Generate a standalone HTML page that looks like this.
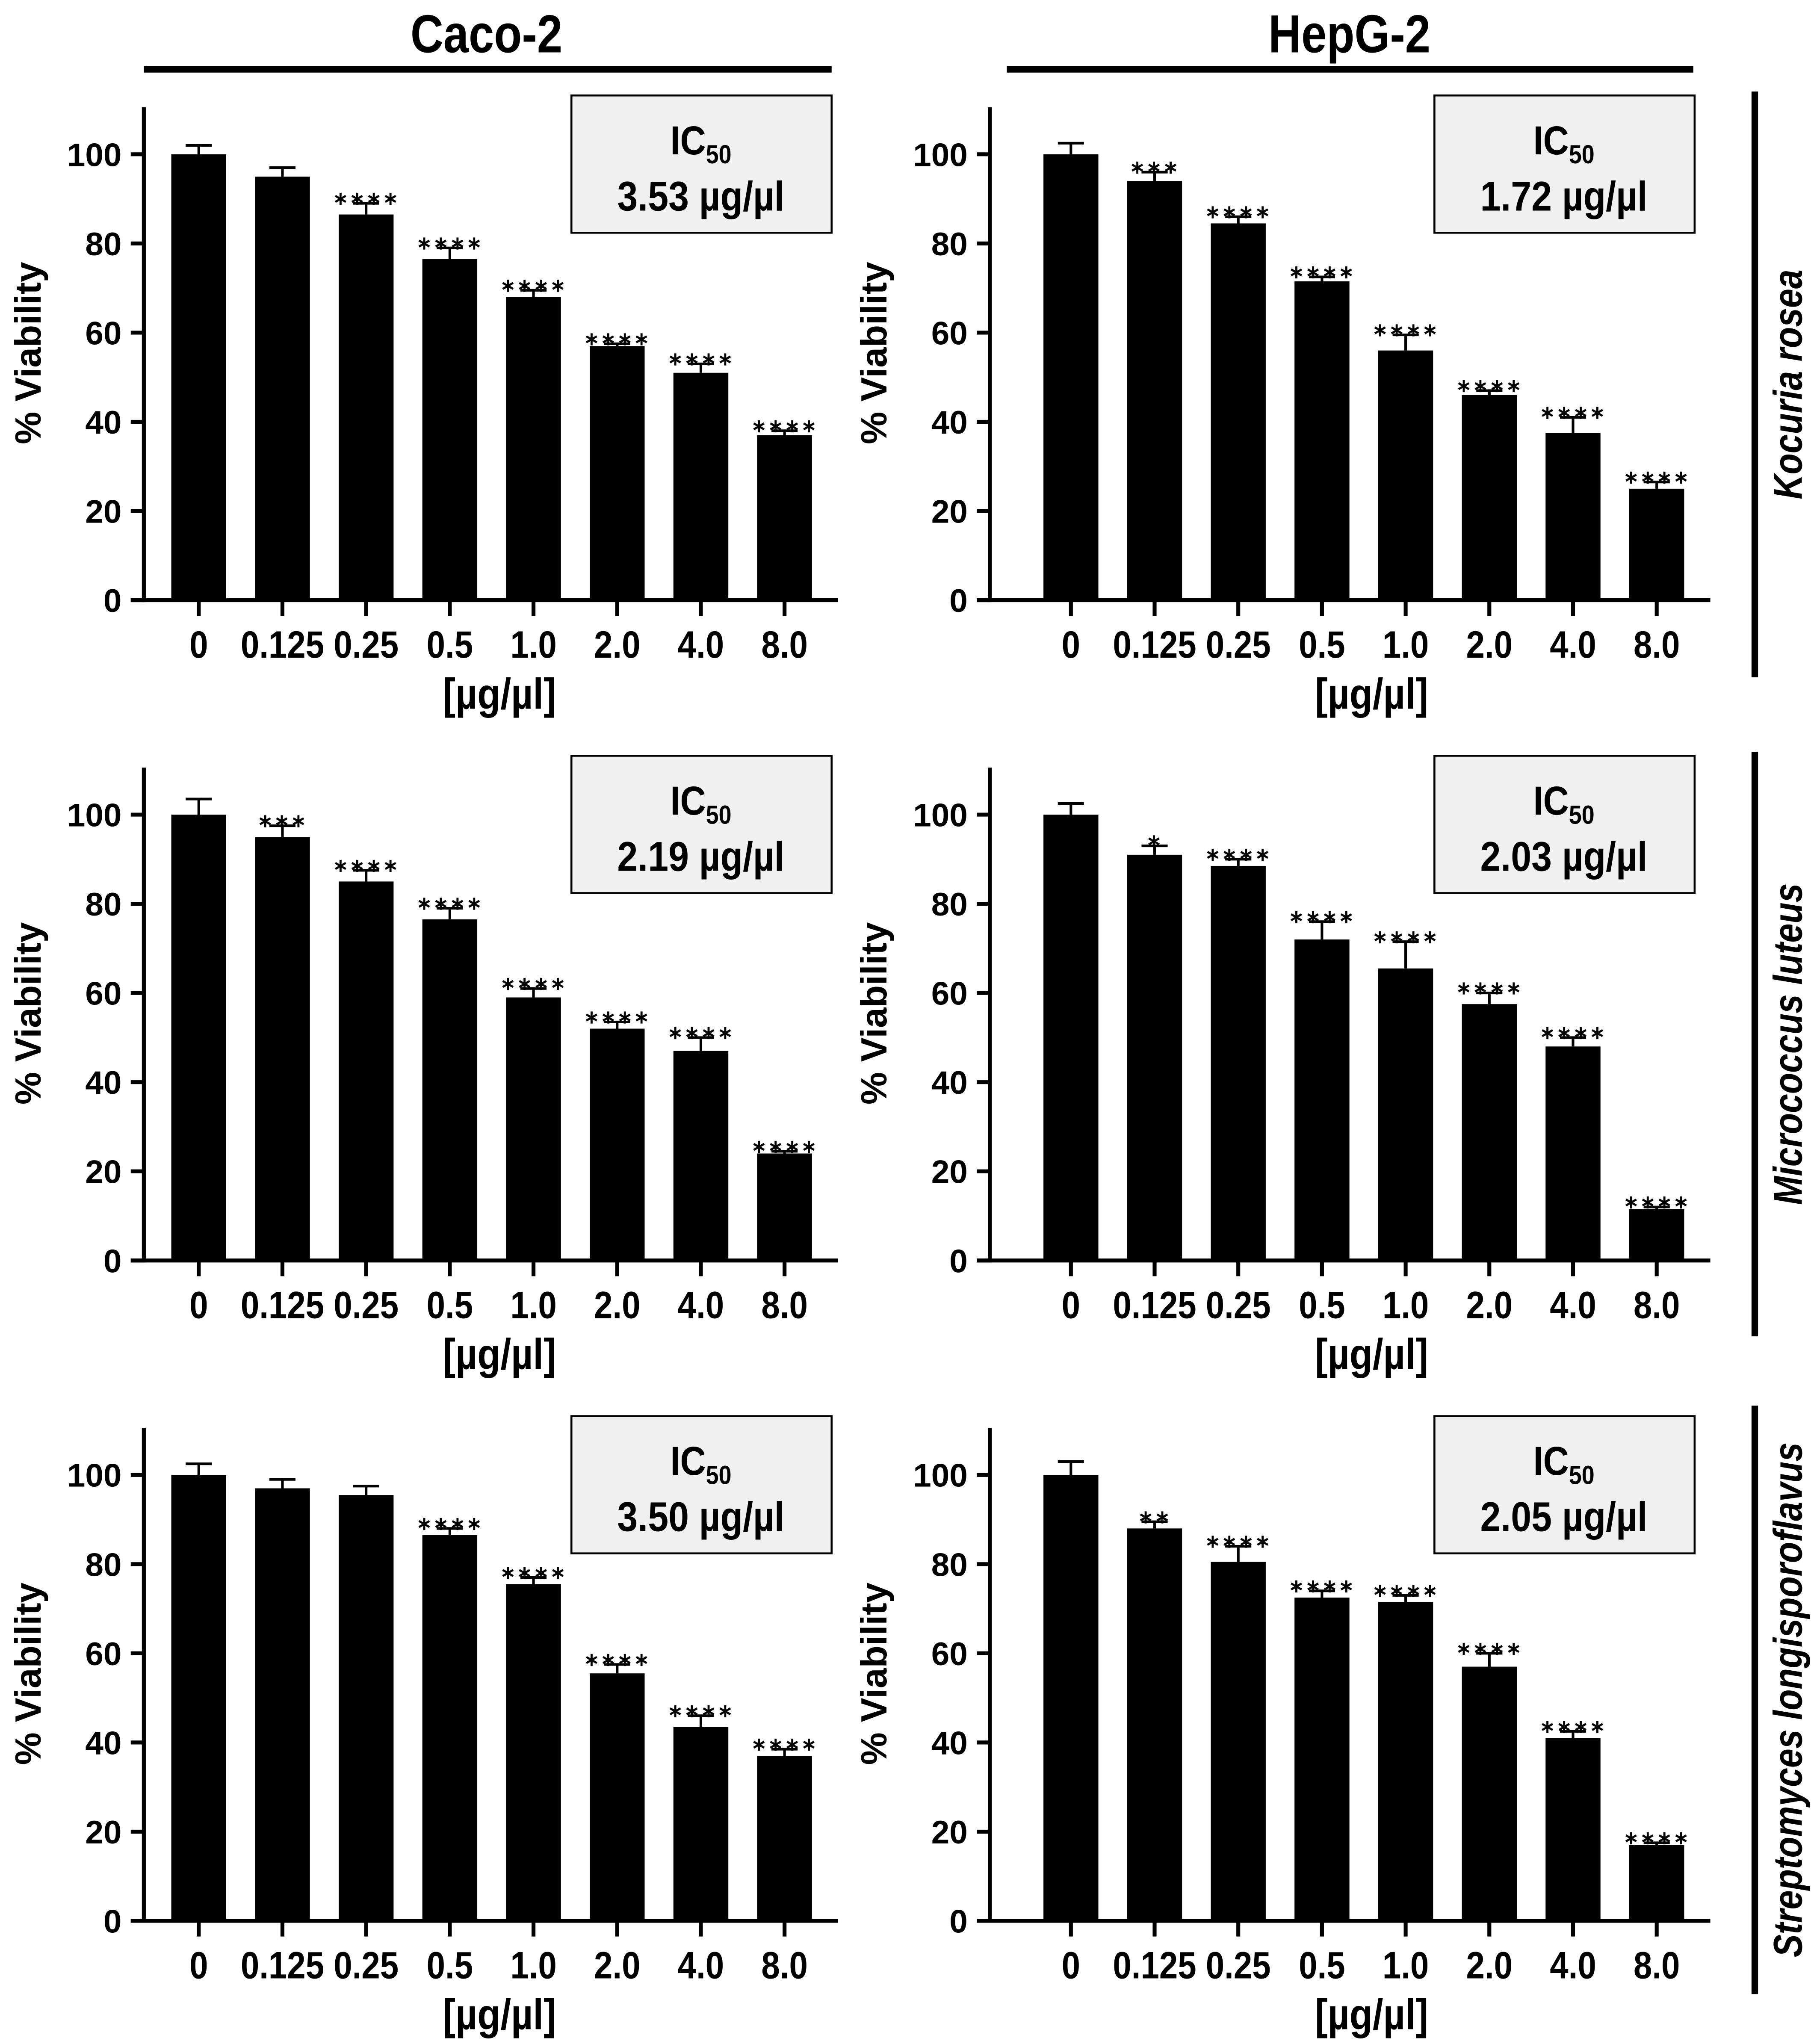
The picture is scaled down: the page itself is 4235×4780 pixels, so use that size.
<!DOCTYPE html>
<html><head><meta charset="utf-8"><style>
html,body{margin:0;padding:0;background:#fff}
svg{display:block}
text{font-family:"Liberation Sans",sans-serif;font-weight:bold;fill:#000}
</style></head><body>
<svg id="fig" width="4235" height="4780" viewBox="0 0 1385 1563.2" preserveAspectRatio="none" xmlns="http://www.w3.org/2000/svg"></svg>
<script>
const categories=["0","0.125","0.25","0.5","1.0","2.0","4.0","8.0"];
const yTicks=[0,20,40,60,80,100];
const cacoKocuria=[100,95,86.5,76.5,68,57,51,37];
const cacoKocuriaErr=[102,97,89,79,69.5,57.5,53,38];
const cacoKocuriaStars=["","","****","****","****","****","****","****"];
const hepKocuria=[100,94,84.5,71.5,56,46,37.5,25];
const hepKocuriaErr=[102.5,96,86,72.5,59.5,47,41,26.5];
const hepKocuriaStars=["","***","****","****","****","****","****","****"];
const cacoMicro=[100,95,85,76.5,59,52,47,24];
const cacoMicroErr=[103.5,97.5,87.5,79,61,53.5,50,24.5];
const cacoMicroStars=["","***","****","****","****","****","****","****"];
const hepMicro=[100,91,88.5,72,65.5,57.5,48,11.5];
const hepMicroErr=[102.5,93,90,76,71.5,60,50,12];
const hepMicroStars=["","*","****","****","****","****","****","****"];
const cacoStrep=[100,97,95.5,86.5,75.5,55.5,43.5,37];
const cacoStrepErr=[102.5,99,97.5,88,77,57.5,46,38.5];
const cacoStrepStars=["","","","****","****","****","****","****"];
const hepStrep=[100,88,80.5,72.5,71.5,57,41,17];
const hepStrepErr=[103,89.5,84,74,73,60,42.5,17.5];
const hepStrepStars=["","**","****","****","****","****","****","****"];
const ic50=["3.53","1.72","2.19","2.03","3.50","2.05"];
const columnTitles=["Caco-2","HepG-2"];
const species=["Kocuria rosea","Micrococcus luteus","Streptomyces longisporoflavus"];

const NS="http://www.w3.org/2000/svg";
const svg=document.getElementById('fig');
function mk(tag,attrs,parent,name,txt){
  const e=document.createElementNS(NS,tag);
  for(const k in attrs)e.setAttribute(k,attrs[k]);
  
  
  if(txt!==undefined)e.textContent=txt;
  (parent||svg).appendChild(e);return e;
}
const panels=[
 [cacoKocuria,cacoKocuriaErr,cacoKocuriaStars],[hepKocuria,hepKocuriaErr,hepKocuriaStars],
 [cacoMicro,cacoMicroErr,cacoMicroStars],[hepMicro,hepMicroErr,hepMicroStars],
 [cacoStrep,cacoStrepErr,cacoStrepStars],[hepStrep,hepStrepErr,hepStrepStars]];
const colX=[0,667];
const axisX=[110,757];
const boxX=[437,1097];
const rowY=[0,505,1010];
panels.forEach((p,i)=>{
  const c=i%2, dx=colX[c], dy=rowY[Math.floor(i/2)];
  const g=mk('g',{transform:`translate(0,${dy})`},svg,'panel-'+(i+1));
  const x0=axisX[c], y0=459, k=3.41;
  const yS=v=>y0-v*k;
  const xS=j=>dx+152+j*64;
  p[0].forEach((v,j)=>{
    mk('rect',{x:xS(j)-21,y:yS(v),width:42,height:y0-yS(v),fill:'#000'},g,'bar-'+categories[j]);
    mk('line',{x1:xS(j),x2:xS(j),y1:yS(v),y2:yS(p[1][j]),stroke:'#000','stroke-width':2},g,'error-bar');
    mk('line',{x1:xS(j)-10,x2:xS(j)+10,y1:yS(p[1][j]),y2:yS(p[1][j]),stroke:'#000','stroke-width':2},g,'error-cap');
    if(p[2][j]) mk('text',{x:xS(j),y:yS(p[1][j])+1,'text-anchor':'middle','font-size':14,'font-weight':'normal','letter-spacing':1},g,'significance',p[2][j].replace(/\*/g,'∗'));
  });
  mk('line',{x1:x0,x2:x0,y1:82,y2:y0+1.5,stroke:'#000','stroke-width':3},g,'y-axis');
  mk('line',{x1:x0-10,x2:dx+641,y1:y0,y2:y0,stroke:'#000','stroke-width':3},g,'x-axis');
  yTicks.forEach(t=>{
    mk('line',{x1:x0-10,x2:x0,y1:yS(t),y2:yS(t),stroke:'#000','stroke-width':3},g,'y-tick');
    mk('text',{x:x0-17,y:yS(t)+9,'text-anchor':'end','font-size':25},g,'y-tick-label',String(t));
  });
  categories.forEach((cat,j)=>{
    mk('line',{x1:xS(j),x2:xS(j),y1:y0,y2:y0+12,stroke:'#000','stroke-width':3},g,'x-tick');
    mk('text',{x:xS(j)/0.88,y:503,'text-anchor':'middle','font-size':29,transform:'scale(0.88,1)'},g,'x-tick-label',cat);
  });
  mk('text',{x:(dx+382)/0.88,y:542,'text-anchor':'middle','font-size':33,transform:'scale(0.88,1)'},g,'x-axis-title','[µg/µl]');
  mk('text',{x:0,y:0,'text-anchor':'middle','font-size':28,transform:`translate(${x0-79},270) rotate(-90)`},g,'y-axis-title','% Viability');
  const bx=boxX[c];
  mk('rect',{x:bx,y:73,width:199,height:105,fill:'#f0f0f0',stroke:'#000','stroke-width':1.5},g,'ic50-box');
  const t=mk('text',{x:(bx+99)/0.88,y:118,'text-anchor':'middle','font-size':31,transform:'scale(0.88,1)'},g,'ic50-label','IC');
  mk('tspan',{'font-size':20,dy:7},t,'ic50-subscript','50');
  mk('text',{x:(bx+99)/0.88,y:161,'text-anchor':'middle','font-size':32,transform:'scale(0.88,1)'},g,'ic50-value',ic50[i]+' µg/µl');
});
const titleX=[372,1032], lineX=[[110,636],[770,1295]];
columnTitles.forEach((cname,i)=>{
  mk('text',{x:titleX[i]/0.85,y:40,'text-anchor':'middle','font-size':41,transform:'scale(0.85,1)'},svg,'column-title',cname);
  mk('line',{x1:lineX[i][0],x2:lineX[i][1],y1:53,y2:53,stroke:'#000','stroke-width':5},svg,'column-title-bar');
});
const sy=[[70,518],[575,1022],[1075,1525]];
species.forEach((sp,i)=>{
  mk('line',{x1:1342,x2:1342,y1:sy[i][0],y2:sy[i][1],stroke:'#000','stroke-width':5},svg,'row-bracket');
  const cy=(sy[i][0]+sy[i][1])/2;
  mk('text',{x:0,y:0,'text-anchor':'middle','font-size':31,'font-style':'italic',transform:`translate(1378,${cy}) rotate(-90) scale(0.85,1)`},svg,'row-label',sp);
});
</script>
</body></html>
